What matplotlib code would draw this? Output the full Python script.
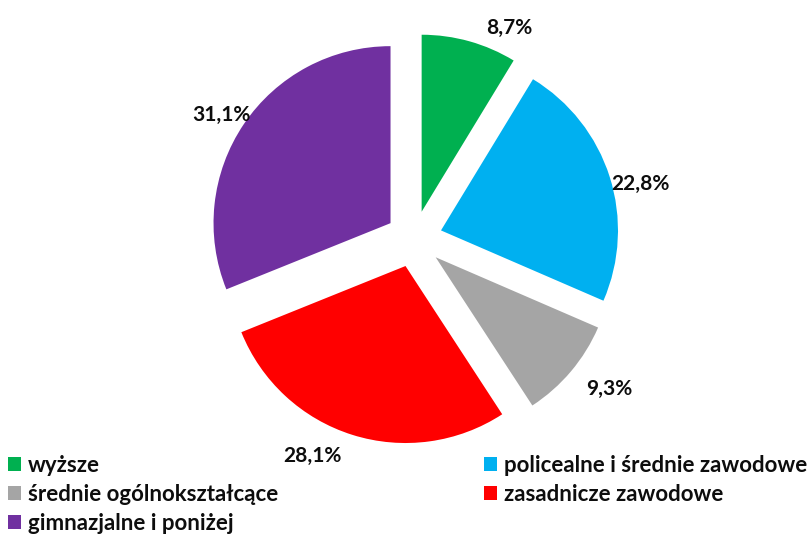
import matplotlib
matplotlib.use("Agg")
import matplotlib.pyplot as plt
import numpy as np

categories = ["wyższe", "policealne i średnie zawodowe", "średnie ogólnokształcące",
              "zasadnicze zawodowe", "gimnazjalne i poniżej"]
values = [8.7, 22.8, 9.3, 28.1, 31.1]
labels = ["8,7%", "22,8%", "9,3%", "28,1%", "31,1%"]
colors = ["#00B050", "#00B0F0", "#A5A5A5", "#FF0000", "#7030A0"]

plt.rcParams['font.family'] = ['Lato', 'DejaVu Sans']

fig = plt.figure(figsize=(8.08, 5.44), dpi=100)
R = 177.0
cx, cy = 414.0, 239.0
half = 1.3
W, H = 808.0, 544.0
ax = fig.add_axes([(cx - half * R) / W, (H - cy - half * R) / H,
                   2 * half * R / W, 2 * half * R / H])
wedges, _ = ax.pie(values, colors=colors, startangle=90, counterclock=False,
                   explode=[0.16] * len(values), radius=1.0,
                   wedgeprops=dict(linewidth=0))

# label nudges in pixels (right, down)
nudges = [(32, 16), (2, 16), (15, -2), (-31, -8), (3, 8)]
for w, lab, (nx, ny) in zip(wedges, labels, nudges):
    ang = np.deg2rad((w.theta1 + w.theta2) / 2)
    x0, y0 = w.center
    d = 1.17
    ax.text(x0 + d * np.cos(ang) + nx / R, y0 + d * np.sin(ang) - ny / R, lab,
            ha="center", va="center", fontsize=15, fontweight="bold", color="#0d0d0d")
ax.set_xlim(-half, half)
ax.set_ylim(-half, half)
ax.set_aspect('equal')
ax.axis('off')

order = [0, 2, 4, 1, 3]
leg = fig.legend([wedges[i] for i in order], [categories[i] for i in order],
                 ncol=2, loc="upper left", bbox_to_anchor=(8 / W, 0, 799 / W, 1 - 455 / H),
                 mode="expand", frameon=False, prop=dict(size=16, weight="bold"),
                 handlelength=0.6, handleheight=0.6, handletextpad=0.3,
                 labelspacing=0.35, borderaxespad=0, borderpad=0)
for t in leg.get_texts():
    t.set_color("#0d0d0d")

fig.savefig("out.png", dpi=100)
